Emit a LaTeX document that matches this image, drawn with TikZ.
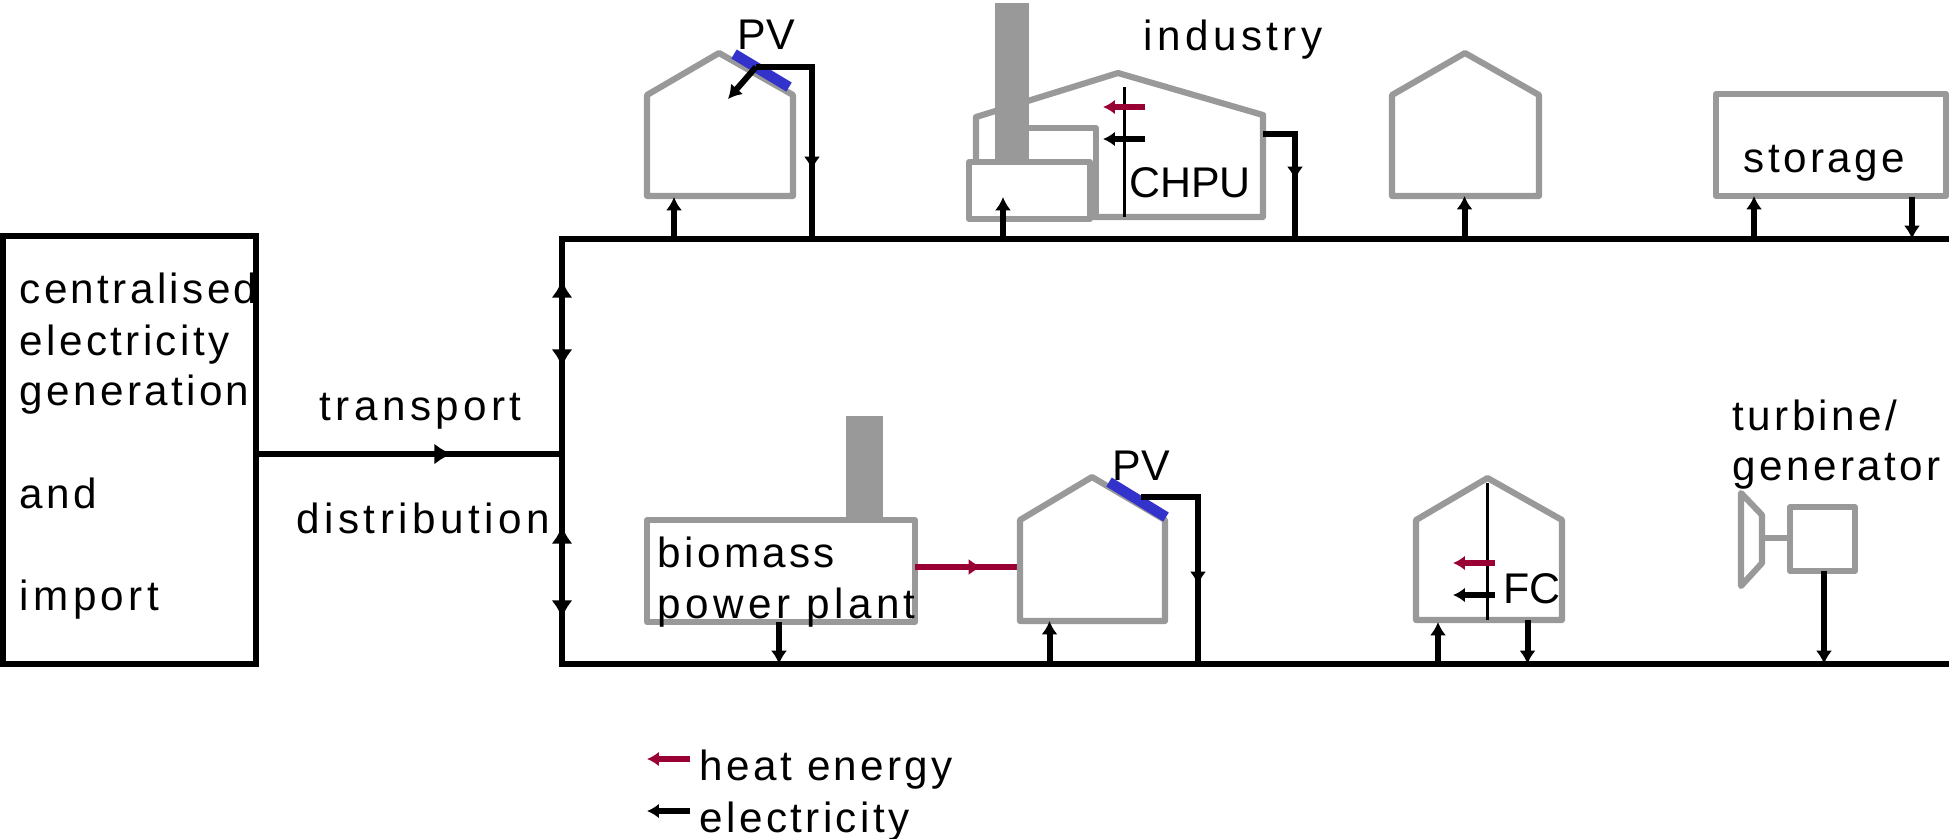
\documentclass[tikz,border=0pt]{standalone}
\usepackage{fontspec}
\setmainfont{Liberation Sans}
\newfontfamily\spaced[LetterSpace=8]{Liberation Sans}
\newfontfamily\wider[LetterSpace=10.5]{Liberation Sans}
\usetikzlibrary{arrows.meta}
\definecolor{plantgray}{HTML}{999999}
\definecolor{heatred}{HTML}{990033}
\definecolor{panelblue}{HTML}{3333CC}
\tikzset{
  grid line/.style={draw,line width=1.85pt,line join=miter},
  plant/.style={draw=plantgray,line width=1.75pt,line join=round},
  chimney/.style={fill=plantgray,draw=none},
  panel/.style={draw=panelblue,line width=3pt},
  feed/.style={draw,line width=1.7pt,-{Latex[length=3.8pt,width=4.6pt]}},
  big feed/.style={feed,-{Latex[length=5pt,width=6pt]}},
  wire/.style={draw,line width=1.7pt},
  thin wall/.style={draw,line width=0.85pt},
  small/.style={line width=1.55pt,-{Latex[length=3.4pt,width=4.2pt]}},
  word/.style={font=\fontsize{12}{12}\spaced,inner sep=0pt,anchor=base west},
  wide word/.style={word,font=\fontsize{12}{12}\wider},
  tag/.style={font=\fontsize{12.2}{12}\selectfont,inner sep=0pt}
}
\begin{document}
\begin{tikzpicture}[x=0.01cm,y=-0.01cm]
\useasboundingbox (0,0) rectangle (1949,838);
% grid
\coordinate (bustop) at (562,239);
\coordinate (busbot) at (562,664);
\coordinate (topend) at (1952,239);
\coordinate (botend) at (1952,664);
\coordinate (feedin) at (256,454);
\coordinate (feedmid) at (562,454);
\path[grid line] (topend) -- (bustop) -- (busbot) -- (botend);
\path[grid line] (3,236) rectangle (256,664);
\path[grid line] (feedin) -- (feedmid);
\coordinate (t1) at (385,454);
\coordinate (t2) at (452,454);
\path[big feed] (t1) -- (t2);
\coordinate (v0) at (562,340);
\coordinate (v1) at (562,280);
\coordinate (v2) at (562,367);
\coordinate (v3) at (562,590);
\coordinate (v4) at (562,526);
\coordinate (v5) at (562,618);
\path[big feed] (v0) -- (v1);
\path[big feed] (v0) -- (v2);
\path[big feed] (v3) -- (v4);
\path[big feed] (v3) -- (v5);
% house with PV, top
\path[plant] (647,95) -- (719,53) -- (793,95) -- (793,196) -- (647,196) -- cycle;
\path[panel] (734,54) -- (789,87);
\coordinate (pva) at (756,67);
\coordinate (pvain) at (728,99);
\coordinate (pvadown) at (812,170);
\coordinate (pvaup) at (812,130);
\coordinate (ha) at (674,197);
\path[wire] (pva) -| (bustop -| pvadown);
\path[feed] (pvaup) -- (pvadown);
\path[feed] (pva) -- (pvain);
\path[feed] (bustop -| ha) -- (ha);
\node[tag] (pvatag) at (766,35) {PV};
% industry
\path[plant] (976,160) -- (976,117) -- (1118,73) -- (1263,115) -- (1263,217) -- (1093,217);
\path[plant] (1020,128) -- (1096,128) -- (1096,217);
\path[plant,fill=white] (969,162) rectangle (1090,219);
\path[chimney] (995,3) rectangle (1029,160);
\path[thin wall] (1124.5,87) -- (1124.5,217);
\coordinate (ia) at (1145,107);
\coordinate (ib) at (1103,107);
\coordinate (ic) at (1145,139);
\coordinate (id) at (1103,139);
\draw[small,heatred] (ia) -- (ib);
\draw[small] (ic) -- (id);
\coordinate (ie) at (1003,197);
\path[feed] (bustop -| ie) -- (ie);
\coordinate (chp) at (1263,134);
\coordinate (chpup) at (1295,150);
\coordinate (chpdown) at (1295,180);
\path[wire] (chp) -| (bustop -| chpdown);
\path[feed] (chpup) -- (chpdown);
\node[tag] (chpu) at (1190,183) {CHPU};
\node[wide word] (industry) at (1143,50) {industry};
% house, top
\path[plant] (1392,95) -- (1465,53) -- (1539,95) -- (1539,196) -- (1392,196) -- cycle;
\coordinate (hb) at (1464.5,196);
\path[feed] (bustop -| hb) -- (hb);
% storage
\path[plant] (1716,94) rectangle (1946,196);
\coordinate (sa) at (1754,196);
\coordinate (sb) at (1912,197);
\path[feed] (bustop -| sa) -- (sa);
\path[feed] (sb) -- (bustop -| sb);
\node[word] (storage) at (1743,172) {storage};
% biomass power plant
\path[chimney] (846,416) rectangle (883,520);
\path[plant] (647,520) rectangle (915,622);
\coordinate (bp) at (915,567);
\coordinate (bq) at (1020,567);
\coordinate (br) at (945,567);
\coordinate (bs) at (982,567);
\path[draw=heatred,line width=1.7pt] (bp) -- (bq);
\path[draw=heatred,line width=1.7pt,-{Latex[length=3.8pt,width=4.6pt]}] (br) -- (bs);
\coordinate (bt) at (779,622);
\path[feed] (bt) -- (busbot -| bt);
\node[word] (biomass) at (657,567) {biomass};
\node[wide word] (powerplant) at (657,618) {power plant};
% house with PV, bottom
\path[plant] (1020,520) -- (1092,477) -- (1165,520) -- (1165,621) -- (1020,621) -- cycle;
\path[panel] (1109,482) -- (1166,517);
\coordinate (pvb) at (1141,497);
\coordinate (pvbup) at (1198,550);
\coordinate (pvbdown) at (1198,585);
\coordinate (hc) at (1049.5,621);
\path[wire] (pvb) -| (busbot -| pvbdown);
\path[feed] (pvbup) -- (pvbdown);
\path[feed] (busbot -| hc) -- (hc);
\node[tag] (pvbtag) at (1141,466) {PV};
% house with FC
\path[plant] (1416,520) -- (1487.5,478) -- (1562,520) -- (1562,620) -- (1416,620) -- cycle;
\path[thin wall] (1487.5,483) -- (1487.5,620);
\coordinate (fa) at (1495,563);
\coordinate (fb) at (1453,563);
\coordinate (fc) at (1495,595);
\coordinate (fd) at (1453,595);
\draw[small,heatred] (fa) -- (fb);
\draw[small] (fc) -- (fd);
\coordinate (fe) at (1438,622);
\coordinate (ff) at (1527.5,620);
\path[feed] (busbot -| fe) -- (fe);
\path[feed] (ff) -- (busbot -| ff);
\node[tag] (fctag) at (1532,589) {FC};
% turbine and generator
\path[plant] (1741,493) -- (1762,515) -- (1762,563) -- (1741,586) -- cycle;
\path[plant] (1790,507) rectangle (1855,571);
\coordinate (ta) at (1762,538);
\coordinate (tb) at (1790,538);
\path[plant] (ta) -- (tb);
\coordinate (tc) at (1824,571);
\path[feed] (tc) -- (busbot -| tc);
\node[word] (turbine) at (1732,430) {turbine/};
\node[word] (generator) at (1732,480) {generator};
% texts
\node[word] (central) at (19,303) {centralised};
\node[word] (electric) at (19,355) {electricity};
\node[word] (generation) at (19,405) {generation};
\node[word] (and) at (19,508) {and};
\node[wide word] (import) at (19,610) {import};
\node[wide word] (transport) at (319,420) {transport};
\node[wide word] (distribution) at (296,533) {distribution};
% legend
\coordinate (la) at (690,759);
\coordinate (lb) at (647,759);
\coordinate (lc) at (690,811);
\coordinate (ld) at (647,811);
\draw[small,heatred] (la) -- (lb);
\draw[small] (lc) -- (ld);
\node[word] (heat) at (699,780) {heat energy};
\node[word] (elec) at (699,832) {electricity};
\end{tikzpicture}
\end{document}
